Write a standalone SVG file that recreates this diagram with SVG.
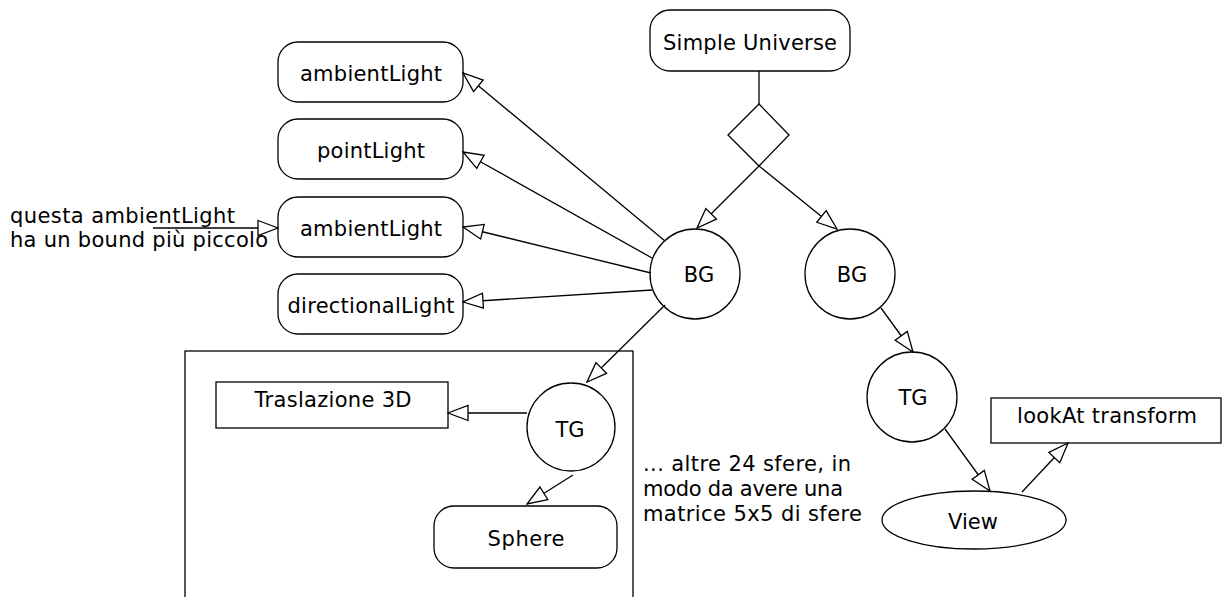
<svg xmlns="http://www.w3.org/2000/svg" width="1222" height="597" viewBox="0 0 1222 597">
<style>
.s{fill:#fff;stroke:#000;stroke-width:1.3}
.c line{stroke:#000;stroke-width:1.3;marker-end:url(#tri)}
.c line.plain{marker-end:none}
text{font-family:"DejaVu Sans","Liberation Sans",sans-serif;font-size:21px;fill:#000}
.m{text-anchor:middle}
</style>
<defs>
<marker id="tri" markerUnits="userSpaceOnUse" viewBox="0 0 22 18" markerWidth="22" markerHeight="18" refX="21" refY="9" orient="auto">
<path d="M1,1.5 L21,9 L1,16.5 Z" fill="#fff" stroke="#000" stroke-width="1.3"/>
</marker>
</defs>
<rect id="group-box" x="185" y="351" width="448" height="260" fill="none" stroke="#000" stroke-width="1.3"/>
<g id="simple-universe"><rect class="s" x="650" y="10" width="200" height="61" rx="20"/><text x="750" y="50" class="m" textLength="174">Simple Universe</text></g>
<g id="diamond"><polygon class="s" points="759,104 728,135 759,166 789,135"/></g>
<g id="ambientLight1"><rect class="s" x="278" y="42" width="185" height="60" rx="20"/><text x="371" y="81" class="m" textLength="142">ambientLight</text></g>
<g id="pointLight"><rect class="s" x="278" y="119" width="185" height="60" rx="20"/><text x="371" y="158" class="m" textLength="108">pointLight</text></g>
<g id="ambientLight2"><rect class="s" x="278" y="197" width="185" height="60" rx="20"/><text x="371" y="236" class="m" textLength="142">ambientLight</text></g>
<g id="directionalLight"><rect class="s" x="278" y="274" width="185" height="60" rx="20"/><text x="371" y="313" class="m" textLength="167">directionalLight</text></g>
<g id="bg-left"><circle class="s" cx="695" cy="274" r="45"/><text x="699" y="282" class="m">BG</text></g>
<g id="bg-right"><circle class="s" cx="850" cy="274" r="45"/><text x="852" y="282" class="m">BG</text></g>
<g id="tg-left"><circle class="s" cx="571" cy="427" r="44"/><text x="570" y="437" class="m">TG</text></g>
<g id="traslazione"><rect class="s" x="216" y="382" width="232" height="46"/><text x="333" y="407" class="m" textLength="157">Traslazione 3D</text></g>
<g id="sphere"><rect class="s" x="434" y="506" width="183" height="62" rx="20"/><text x="526" y="546" class="m" textLength="77">Sphere</text></g>
<g id="tg-right"><circle class="s" cx="912" cy="397" r="45"/><text x="913" y="405" class="m">TG</text></g>
<g id="view"><ellipse class="s" cx="974" cy="520" rx="92" ry="29"/><text x="973" y="529" class="m" textLength="50">View</text></g>
<g id="lookat"><rect class="s" x="991" y="398" width="230" height="45"/><text x="1107" y="423" class="m" textLength="180">lookAt transform</text></g>
<g id="note-left"><text x="10" y="223" textLength="225">questa ambientLight</text><text x="10" y="247" textLength="258">ha un bound più piccolo</text></g>
<g id="note-right"><text x="643" y="471" textLength="208">... altre 24 sfere, in</text><text x="643" y="496" textLength="200">modo da avere una</text><text x="643" y="521" textLength="219">matrice 5x5 di sfere</text></g>
<g id="connectors" class="c">
<line class="plain" x1="759" y1="71" x2="759" y2="104"/>
<line x1="759" y1="166" x2="697" y2="228"/>
<line x1="759" y1="166" x2="837" y2="229"/>
<line x1="665" y1="241" x2="463" y2="73"/>
<line x1="652" y1="258" x2="463" y2="152"/>
<line x1="651" y1="273" x2="463" y2="227"/>
<line x1="652" y1="290" x2="463" y2="302"/>
<line x1="665" y1="305" x2="587" y2="382"/>
<line x1="527" y1="413" x2="448" y2="413"/>
<line x1="573" y1="475" x2="527" y2="504"/>
<line x1="153" y1="228" x2="278" y2="228"/>
<line x1="881" y1="308" x2="913" y2="352"/>
<line x1="945" y1="429" x2="990" y2="491"/>
<line x1="1022" y1="492" x2="1068" y2="443"/>
</g>
</svg>
